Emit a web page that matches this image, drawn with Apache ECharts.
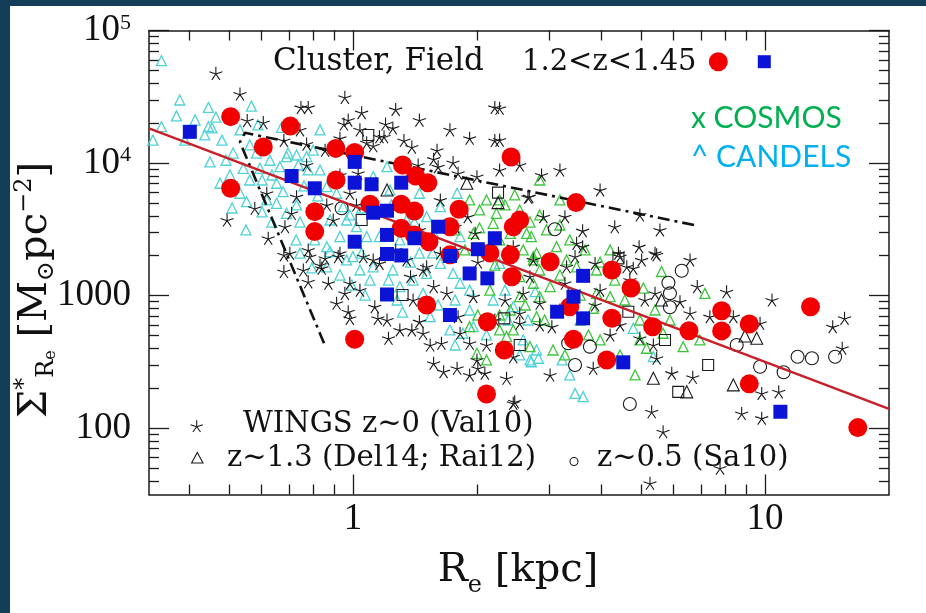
<!DOCTYPE html>
<html><head><meta charset="utf-8">
<script src="https://cdn.jsdelivr.net/npm/echarts@6/dist/echarts.min.js"></script>
<style>html,body{margin:0;padding:0;background:#fff}#c{width:926px;height:613px}</style>
</head><body><div id="c"></div>
<script>
// ---------- data (R_e in kpc, Sigma in Msun/pc^2) ----------
const xRange = [0.32, 20];
const yRange = [31.6, 100001];
const xMajor = [1, 10];
const xMinor = [0.4, 0.5, 0.6, 0.7, 0.8, 0.9, 2, 3, 4, 5, 6, 7, 8, 9];
const yMajor = [100, 1000, 10000, 100000];
const yMinor = [40, 50, 60, 70, 80, 90, 200, 300, 400, 500, 600, 700, 800, 900,
  2000, 3000, 4000, 5000, 6000, 7000, 8000, 9000, 20000, 30000, 40000, 50000, 60000, 70000, 80000, 90000];

const redCluster = [[0.505,22400],[0.705,19000],[0.606,13200],[0.505,6450],[0.909,12900],[1.01,12000],[1.32,9670],[1.42,7990],[1.52,7110],[0.91,7450],[2.42,11100],[0.808,4300],[0.808,3040],[1.10,4890],[1.31,4890],[1.41,4350],[1.81,4480],[1.72,3310],[1.31,3220],[1.41,2870],[1.53,2550],[1.72,2030],[2.45,3310],[2.54,3720],[2.15,2100],[2.41,2030],[3.48,5030],[3.01,1800],[4.25,1560],[2.43,1390],[1.51,850],[2.12,636],[2.33,389],[1.01,469],[2.11,181],[4.73,1140],[3.36,825],[4.25,674],[3.43,469],[4.13,327],[5.34,583],[6.54,544],[7.85,770],[7.85,542],[9.16,611],[12.9,825],[9.16,216],[16.8,101]];

const blueField = [[0.402,17200],[1.01,10200],[0.71,7990],[0.808,6450],[1.01,7110],[1.11,6920],[1.31,7110],[1.12,4220],[1.21,4370],[1.01,2550],[1.21,2870],[1.41,2710],[1.61,3310],[1.21,2060],[1.31,2010],[1.72,1990],[2.01,2240],[2.21,2710],[1.92,1470],[2.12,1350],[1.21,1020],[1.72,714],[3.62,1410],[3.43,982],[3.13,756],[3.62,674],[4.53,314],[10.9,133]];

const wingsStars = [[0.465,47500],[0.532,33200],[0.748,26300],[0.779,26300],[0.956,31300],[1.05,24000],[1.27,25400],[2.21,26300],[0.951,19700],[0.974,21100],[1.20,19700],[1.19,15800],[1.33,14800],[0.606,20200],[0.554,20900],[1.92,15400],[2.21,14800],[0.495,3720],[0.68,14800],[0.772,13900],[0.93,15400],[0.772,9670],[1.03,8370],[1.75,10100],[1.61,9390],[2.0,7900],[2.66,5520],[1.12,13500],[1.16,15800],[1.44,9670],[0.578,4560],[0.623,2710],[0.71,4180],[0.684,3310],[0.779,2210],[0.832,1700],[0.983,5920],[1.02,4830],[0.703,2090],[0.618,5920],[0.73,5580],[0.864,4830],[0.896,3720],[0.93,2090],[0.856,1910],[1.12,1860],[1.51,1650],[1.63,2090],[1.77,3310],[1.9,3940],[1.98,2950],[2.45,2340],[1.57,10700],[1.8,8370],
[2.27,25900],[2.27,14900],[2.87,8130],[2.68,5580],[3.27,3940],[3.61,3090],[4.32,3310],[4.95,2340],[5.41,2090],[4.41,2090],[2.9,3940],[3.49,2480],[3.61,2340],[2.74,1860],[3.3,1650],[4.62,1650],
[0.68,2030],[0.68,1520],[0.758,1560],[0.84,1610],[0.786,1970],[0.779,1270],[0.872,1240],[0.956,1040],[1.04,1100],[0.983,1240],[0.913,875],[0.974,756],[0.983,674],[1.13,825],[1.15,674],[1.21,655],[1.22,477],[1.3,551],[1.39,551],[1.48,520],[1.54,424],[1.64,437],[1.57,309],[1.66,267],[1.79,283],[1.92,252],[2.01,283],[2.09,260],[2.36,238],[2.45,154],[1.92,437],[2.0,327],[2.11,424],[1.69,1040],[1.57,1170],[1.38,1390],[1.48,1560],[1.4,927],[1.45,636],[1.8,694],[1.82,520],[2.54,619],[2.45,346],[2.69,1390],[2.59,1040],[1.96,982],[1.35,1860],[1.16,1750],[0.921,1970],[1.06,1970],
[5.46,2030],[4.45,1970],[3.46,1970],[3.87,1750],[4.79,1610],[3.27,1240],[6.85,1170],[8.07,1070],[10.4,927],[5.41,1040],[6.22,900],[2.84,875],[2.54,736],[3.04,583],[7.35,694],[8.38,694],[9.73,619],[4.21,505],[4.45,601],[4.97,477],[5.36,424],[6.58,736],[5.46,337],[14.6,583],[15.6,674],[15.4,401],[3.01,252],[3.83,283],[5.94,260],[6.68,242],[2.47,158],[5.31,133],[5.66,94],[9.82,183],[10.8,188],[8.78,129],[9.82,119],[7.78,50],[5.26,38.4],[5.02,1860],
[0.744,17800],[0.856,12500],[1.08,14200],[1.39,13200],[1.25,18400],[1.6,12500],[2.21,655],[2.34,927],[2.84,601],[3.18,779],[3.87,850],[3.98,1100],[4.7,1310],[5.11,927],[1.77,2210],[2.01,1790],[1.27,2210],[1.45,3130],[1.63,5270],[2.27,8870],[2.54,9670],[3.18,8870],[3.98,6270],[4.97,4060],[5.56,3130],[6.58,1860],[0.93,8130],[1.04,17800],[1.45,21100],[1.72,17800]];

const candelsTri = [[0.343,59200],[0.327,14900],[0.343,18800],[0.373,22700],[0.446,26300],[0.465,22200],[0.446,18800],[0.437,16300],[0.45,10200],[0.476,7040],[0.512,11900],[0.532,17800],[0.567,26900],[0.503,8130],[0.562,13700],[0.583,11900],[0.542,9130],[0.562,7450],[0.595,9130],[0.629,10500],[0.665,9390],[0.69,11200],[0.73,11500],[0.772,11200],[0.801,12500],[0.737,9670],[0.779,8870],[0.832,8870],[0.653,7040],[0.677,6080],[0.618,5270],[0.532,5920],[0.552,5110],[0.653,4970],[0.69,4180],[0.73,4830],[0.864,6640],[0.913,5920],[0.947,4690],[0.965,3720],[0.88,3720],[0.93,2790],[0.864,2340],[1.02,3310],[1.08,2790],[1.05,2090],[0.965,1860],[0.864,1650],[0.744,2090],[1.12,7900],[1.21,9390],[1.23,6270],[1.45,5920],[1.35,3720],[1.51,3940],[1.63,4690],[1.79,5920],[1.57,2950],[1.82,2790],[1.16,2790],[1.45,2090],[1.63,1750],[0.671,18600],[0.696,11900],
[0.88,2150],[1.0,1970],[1.12,1650],[1.04,1560],[1.1,1310],[1.25,1560],[1.3,1170],[1.4,1310],[1.51,1470],[1.28,927],[1.48,1040],[1.54,694],[1.72,551],[1.85,520],[1.96,583],[2.11,505],[2.69,327],[2.79,389],[2.59,463],[2.19,927],[1.92,1100],[1.82,1240],[1.75,1470],[2.27,1750],
[3.46,183],[3.62,173],[2.71,317],[2.82,337],[3.36,252],[2.45,825],[2.38,655],[2.66,655],[4.79,567],[5.36,346],
[0.391,14900],[0.414,21100],[0.481,14900],[0.492,10500],[0.602,7450],[0.636,8130],[0.602,4280],[0.636,3590],[0.761,6720],[0.822,5650],[0.744,3590],[0.808,2630],[0.728,2630],[0.795,1620],[1.05,4580],[1.24,4830],[1.41,3590],[1.3,2630],[1.56,2100],[1.38,1790],[1.22,1310],[0.994,1200],[0.93,1430],[1.07,1010],[1.32,752],[1.61,850],[1.77,927],[1.92,779],[2.34,1100],[2.77,1070],[1.77,424],[2.54,357],[3.22,327],[0.55,3130],[0.509,4580],[0.455,18400],[0.38,29900],[0.588,19400],[0.832,17800],[0.983,4060]];

const cosmosTri = [[2.11,5270],[2.03,4430],[2.23,4180],[2.54,4430],[2.19,3510],[2.64,2950],[1.96,2950],[2.27,2630],[2.59,2210],[2.74,1860],[2.84,4060],[2.41,2950],[2.71,2790],[2.95,3130],[3.12,2340],[2.79,2090],[3.3,1860],[3.49,1650],[2.74,1970],[2.84,1560],[2.54,1390],[3.01,1170],[2.84,982],[3.9,1560],[3.9,1040],[3.83,803],[4.21,982],[3.73,505],[3.06,389],[2.69,412],[4.97,463],[5.16,401],[5.66,520],[6.33,412],[4.84,252],[7.15,1040],[5.61,1520],[5.07,1140],[2.45,551],[2.0,367],[2.11,327],[2.27,551],[2.41,779],[2.54,982],[2.74,1240],[2.79,694],[2.36,491],[2.27,5270],[1.92,583],
[1.92,5270],[2.34,4830],[2.47,5750],[2.69,3590],[3.18,3410],[3.36,2630],[3.66,2210],[3.98,1790],[4.32,1310],[4.57,927],[3.56,655],[3.98,463],[3.27,357],[2.92,655],[2.62,850],[2.15,1100],[2.01,714],[2.21,1700],[1.87,2210],[1.77,3130],[2.03,3240],[5.41,779],[4.97,655],[5.88,655],[6.95,463],[4.45,357],[3.18,1430],[3.56,1010],[4.21,2210],[2.27,714],[2.84,7450],[3.18,5270]];

const z13Tri = [[1.21,6270],[1.89,7040],[2.25,5030],[8.38,212],[8.94,496],[9.55,477],[5.36,238],[6.46,188],[5.61,927]];
const z05Circ = [[6.28,1540],[5.83,1250],[5.88,1040],[5.88,817],[3.76,412],[3.46,300],[3.33,437],[4.70,152],[8.54,424],[9.73,291],[11.1,264],[12.0,346],[13.0,337],[14.8,346],[3.09,3170],[0.939,4560]];
const openSq = [[1.09,16300],[2.25,5980],[1.05,3720],[2.33,674],[2.54,424],[1.32,1010],[4.66,756],[7.28,300],[6.16,188],[5.72,463],[4.41,1910]];

const fitLine = [[0.32,18300],[20,140]];
const wedgeLine = [[0.851,437],[0.532,14400],[0.547,16900],[6.91,3350]];

// ---------- styling ----------
const SERIF = 'DejaVu Serif';
const TICKF = 'Liberation Serif';
const INK = '#1a1a1a';
const STAR = 'path://M0,-10L0,0M9.511,-3.09L0,0M5.878,8.09L0,0M-5.878,8.09L0,0M-9.511,-3.09L0,0';

function mkAxis(kind, pos, ticks, len, showLine, labels) {
  const rng = kind === 'x' ? xRange : yRange;
  const a = {
    type: 'log', logBase: 10, min: rng[0], max: rng[1], position: pos,
    axisLine: { show: showLine, lineStyle: { color: INK, width: 1.5 } },
    axisTick: { show: true, inside: true, length: len, customValues: ticks, lineStyle: { color: INK, width: 1.3 } },
    splitLine: { show: false },
    axisLabel: { show: false }
  };
  if (labels) {
    a.axisLabel = {
      show: true, customValues: labels, fontFamily: TICKF, fontSize: 37, color: '#111',
      margin: kind === 'x' ? 6 : 18,
      formatter: function (v) {
        const r = Math.round(v);
        if (r >= 10000) return '10{s|' + Math.round(Math.log10(r)) + '}';
        return String(r);
      },
      rich: { s: { fontFamily: TICKF, fontSize: 22, verticalAlign: 'top', lineHeight: 22, color: '#111' } }
    };
  }
  return a;
}

function scatter(name, data, symbol, size, fill, stroke, bw, z) {
  return {
    type: 'scatter', name: name, data: data, symbol: symbol, symbolSize: size,
    xAxisIndex: 0, yAxisIndex: 0, z: z, silent: true,
    itemStyle: { color: fill, borderColor: stroke, borderWidth: bw, opacity: 1 }
  };
}

function starLegend(cx, cy, r) {
  const kids = [];
  for (let k = 0; k < 5; k++) {
    const a = -Math.PI / 2 + k * 2 * Math.PI / 5;
    kids.push({ type: 'line', shape: { x1: cx, y1: cy, x2: cx + r * Math.cos(a), y2: cy + r * Math.sin(a) }, style: { stroke: INK, lineWidth: 1.1 } });
  }
  return { type: 'group', z: 50, children: kids };
}

const CLEAR = 'rgba(0,0,0,0)';
const chart = echarts.init(document.getElementById('c'), null, { renderer: 'canvas' });
chart.setOption({
  animation: false,
  backgroundColor: '#ffffff',
  grid: { left: 149, top: 30.5, width: 740, height: 464, containLabel: false },
  xAxis: [
    mkAxis('x', 'bottom', xMajor, 20, true, xMajor),
    mkAxis('x', 'bottom', xMinor, 10, false, null),
    mkAxis('x', 'top', xMajor, 20, true, null),
    mkAxis('x', 'top', xMinor, 10, false, null)
  ],
  yAxis: [
    mkAxis('y', 'left', yMajor, 20, true, yMajor),
    mkAxis('y', 'left', yMinor, 10, false, null),
    mkAxis('y', 'right', yMajor, 20, true, null),
    mkAxis('y', 'right', yMinor, 10, false, null)
  ],
  series: [
    scatter('CANDELS', candelsTri, 'triangle', 10, CLEAR, '#4fd2d6', 1.3, 2),
    scatter('COSMOS', cosmosTri, 'triangle', 10, CLEAR, '#3cc63c', 1.3, 3),
    scatter('z~1.3', z13Tri, 'triangle', 12, CLEAR, INK, 1.1, 4),
    scatter('z~0.5', z05Circ, 'circle', 13, CLEAR, INK, 1.1, 4),
    scatter('open squares', openSq, 'rect', 11, CLEAR, INK, 1.1, 4),
    scatter('WINGS', wingsStars, STAR, 13, CLEAR, INK, 1.1, 5),
    {
      type: 'line', name: 'envelope', data: wedgeLine, xAxisIndex: 0, yAxisIndex: 0, z: 6,
      symbol: 'none', silent: true,
      lineStyle: { color: '#111', width: 2.6, type: [12, 5, 3, 5] }
    },
    {
      type: 'line', name: 'fit', data: fitLine, xAxisIndex: 0, yAxisIndex: 0, z: 7,
      symbol: 'none', silent: true,
      lineStyle: { color: '#c8202a', width: 2.4 }
    },
    scatter('Cluster', redCluster, 'circle', 19, '#f20000', '#f20000', 0, 8),
    scatter('Field', blueField, 'rect', 14, '#0b14d6', '#0b14d6', 0, 9)
  ],
  graphic: [
    { type: 'rect', z: 100, shape: { x: 0, y: 0, width: 10, height: 613 }, style: { fill: '#123f57' } },
    { type: 'rect', z: 100, shape: { x: 0, y: 0, width: 926, height: 6 }, style: { fill: '#123f57' } },
    { type: 'text', z: 50, x: 273, y: 62, style: { text: 'Cluster, Field', fontFamily: SERIF, fontSize: 31, fill: '#111', align: 'left', verticalAlign: 'middle' } },
    { type: 'text', z: 50, x: 522, y: 62, style: { text: '1.2<z<1.45', fontFamily: SERIF, fontSize: 29, fill: '#111', align: 'left', verticalAlign: 'middle' } },
    { type: 'circle', z: 50, shape: { cx: 718.3, cy: 61.7, r: 9.5 }, style: { fill: '#f20000' } },
    { type: 'rect', z: 50, shape: { x: 757.8, y: 55.2, width: 13, height: 13 }, style: { fill: '#0b14d6' } },
    { type: 'text', z: 50, x: 691, y: 118, style: { text: 'x COSMOS', fontFamily: 'Lato', fontSize: 30, fill: '#00b050', align: 'left', verticalAlign: 'middle' } },
    { type: 'text', z: 50, x: 691, y: 157, style: { text: '^ CANDELS', fontFamily: 'Lato', fontSize: 30, fill: '#00b0f0', align: 'left', verticalAlign: 'middle' } },
    starLegend(196.7, 426.7, 6.5),
    { type: 'text', z: 50, x: 243, y: 424, style: { text: 'WINGS z~0 (Val10)', fontFamily: SERIF, fontSize: 29, fill: '#111', align: 'left', verticalAlign: 'middle' } },
    { type: 'polygon', z: 50, shape: { points: [[197.3, 452.5], [203, 463], [191.6, 463]] }, style: { fill: 'none', stroke: INK, lineWidth: 1.1 } },
    { type: 'text', z: 50, x: 227, y: 458.5, style: { text: 'z~1.3 (Del14; Rai12)', fontFamily: SERIF, fontSize: 29, fill: '#111', align: 'left', verticalAlign: 'middle' } },
    { type: 'circle', z: 50, shape: { cx: 574, cy: 461.5, r: 4 }, style: { fill: 'none', stroke: INK, lineWidth: 1.1 } },
    { type: 'text', z: 50, x: 597, y: 458.5, style: { text: 'z~0.5 (Sa10)', fontFamily: SERIF, fontSize: 29, fill: '#111', align: 'left', verticalAlign: 'middle' } },
    { type: 'text', z: 50, x: 518, y: 586, style: {
        text: '{m|R}{e|e}{m| [kpc]}', align: 'center', verticalAlign: 'middle', fill: '#111',
        rich: { m: { fontFamily: SERIF, fontSize: 40, lineHeight: 44, verticalAlign: 'top', fill: '#111' }, e: { fontFamily: SERIF, fontSize: 24, lineHeight: 70, fill: '#111' } } } },
    { type: 'text', z: 50, x: 36, y: 290, rotation: Math.PI / 2, style: {
        text: '{m|\u03A3}{sup|*}{sub|R}{ss|e}{m| [M}{sub|\u2299}{m|pc}{sup|\u22122}{m|]}', align: 'center', verticalAlign: 'middle', fill: '#111',
        rich: {
          m: { fontFamily: SERIF, fontSize: 40, lineHeight: 46, fill: '#111' },
          sup: { fontFamily: SERIF, fontSize: 24, verticalAlign: 'top', lineHeight: 26, fill: '#111' },
          sub: { fontFamily: SERIF, fontSize: 24, verticalAlign: 'bottom', lineHeight: 24, fill: '#111' },
          ss: { fontFamily: SERIF, fontSize: 16, verticalAlign: 'bottom', lineHeight: 12, fill: '#111' }
        } } }
  ]
});
</script></body></html>
